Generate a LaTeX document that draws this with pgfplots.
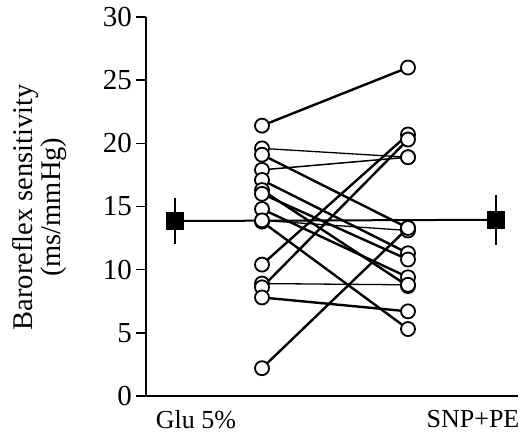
\documentclass[border=0pt]{standalone}
\usepackage{pgfplots}
\pgfplotsset{compat=1.18}
\usepackage{fontspec}
\setmainfont{Liberation Serif}

\begin{document}
\begin{tikzpicture}[x=1pt,y=1pt]
\useasboundingbox (0,0) rectangle (526,435);
\begin{axis}[
  at={(146pt,39pt)}, anchor=south west,
  scale only axis, width=372pt, height=379pt,
  xmin=146, xmax=518, ymin=0, ymax=30,
  axis x line*=bottom, axis y line*=left,
  axis line style={line width=1.8pt, -},
  ytick={0,5,...,30},
  xtick={196,473}, xticklabels={Glu 5\%, SNP+PE},
  x tick style={draw=none},
  tick align=outside, major tick length=10pt,
  y tick style={line width=1.5pt, black},
  /pgf/number format/assume math mode=true,
  xticklabel style={font=\fontsize{26}{28}\selectfont, yshift=-1pt},
  yticklabel style={font=\fontsize{29}{30}\selectfont, inner sep=4pt},
  every axis y label/.style={at={(axis description cs:-0.285,0.498)}, rotate=90,
    anchor=center, align=center, font=\fontsize{28.5}{28}\selectfont},
  ylabel={Baroreflex sensitivity\\(ms/mmHg)},
  clip=false,
]
% individual subjects: Glu 5% -> SNP+PE
\addplot[black, line width=2.4pt] coordinates {(262,21.4) (408,26.0)};
\addplot[black, line width=1.3pt] coordinates {(262,19.6) (408,18.9)};
\addplot[black, line width=2.4pt] coordinates {(262,19.1) (408,13.3)};
\addplot[black, line width=1.5pt] coordinates {(262,17.9) (408,18.9)};
\addplot[black, line width=2.4pt] coordinates {(262,17.1) (408,11.3)};
\addplot[black, line width=2.4pt] coordinates {(262,16.3) (408,8.7)};
\addplot[black, line width=2.4pt] coordinates {(262,16.0) (408,10.8)};
\addplot[black, line width=2.4pt] coordinates {(262,14.8) (408,9.4)};
\addplot[black, line width=2.4pt] coordinates {(262,13.8) (408,5.3)};
\addplot[black, line width=1.3pt] coordinates {(262,13.9) (408,13.1)};
\addplot[black, line width=2.4pt] coordinates {(262,10.4) (408,20.7)};
\addplot[black, line width=1.3pt] coordinates {(262,8.9) (408,8.8)};
\addplot[black, line width=2.4pt] coordinates {(262,8.6) (408,20.3)};
\addplot[black, line width=2.4pt] coordinates {(262,7.8) (408,6.7)};
\addplot[black, line width=2.4pt] coordinates {(262,2.2) (408,13.3)};
% means +- SEM
\addplot[black, line width=2pt, mark=square*, mark size=8pt,
  error bars/.cd, y dir=both, y explicit,
  error bar style={line width=1.5pt},
  error mark options={line width=1.5pt, mark size=5pt}]
  coordinates {(175,13.85) +- (0,1.45) (496,13.95) +- (0,1.6)};
% open circles on top
\addplot[only marks, mark=*, mark size=7pt,
  mark options={fill=white, draw=black, line width=1.8pt}]
  coordinates {(262,21.4) (262,19.6) (262,19.1) (262,17.9) (262,17.1)
    (262,16.3) (262,16.0) (262,14.8) (262,13.8) (262,13.9) (262,10.4)
    (262,8.9) (262,8.6) (262,7.8) (262,2.2)};
\addplot[only marks, mark=*, mark size=7pt,
  mark options={fill=white, draw=black, line width=1.8pt}]
  coordinates {(408,26.0) (408,18.9) (408,13.3) (408,18.9) (408,11.3)
    (408,8.7) (408,10.8) (408,9.4) (408,5.3) (408,13.1) (408,20.7)
    (408,8.8) (408,20.3) (408,6.7) (408,13.3)};
\end{axis}
\end{tikzpicture}
\end{document}
